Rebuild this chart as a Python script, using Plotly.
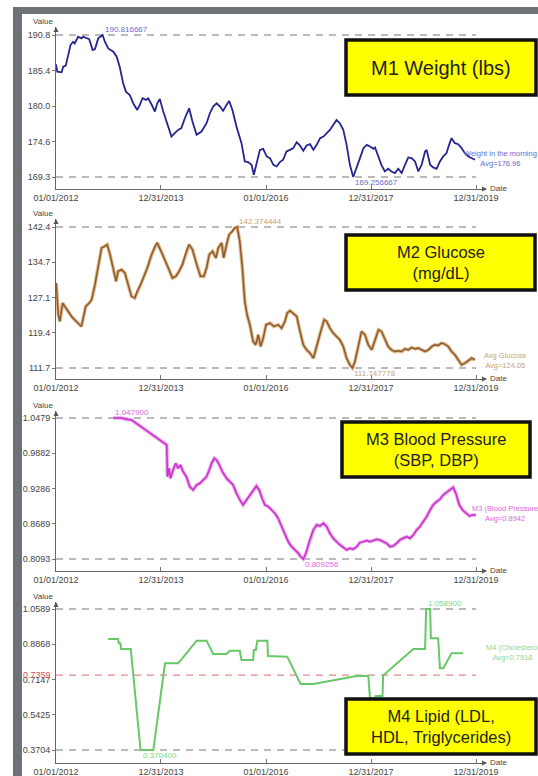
import plotly.graph_objects as go
import pandas as pd

W, H = 538, 776

# ---------------- data ----------------
m1_dates = ["2012-01-01","2012-01-10","2012-02-09","2012-02-20","2012-03-09","2012-03-25","2012-04-11","2012-04-29",
            "2012-05-10","2012-06-03","2012-06-26","2012-07-08","2012-08-01","2012-08-19","2012-09-12","2012-09-28",
            "2012-10-21","2012-11-20","2012-12-06","2012-12-29","2013-02-03","2013-02-26","2013-03-19","2013-04-12",
            "2013-05-01","2013-05-28","2013-06-21","2013-07-19","2013-08-06","2013-08-25","2013-09-17","2013-10-03",
            "2013-10-26","2013-11-19","2013-12-05","2013-12-23","2014-01-16","2014-02-09","2014-03-14","2014-04-06",
            "2014-04-29","2014-05-22","2014-06-15","2014-07-15","2014-08-07","2014-09-05","2014-10-09","2014-11-13",
            "2014-12-06","2014-12-29","2015-01-22","2015-02-15","2015-03-08","2015-04-01","2015-04-19","2015-05-12",
            "2015-06-09","2015-07-14","2015-08-06","2015-08-29","2015-09-22","2015-10-08","2015-11-01","2015-11-19",
            "2015-12-12","2016-01-05","2016-01-28","2016-02-21","2016-03-14","2016-04-06","2016-04-29","2016-05-22",
            "2016-06-15","2016-07-08","2016-08-01","2016-08-24","2016-09-16","2016-10-09","2016-11-02","2016-11-25",
            "2016-12-18","2017-01-11","2017-02-03","2017-02-26","2017-03-20","2017-04-12","2017-05-05","2017-05-28",
            "2017-06-21","2017-07-14","2017-08-06","2017-08-29","2017-09-22","2017-10-15","2017-11-08","2017-12-01",
            "2017-12-24","2018-01-17","2018-01-28","2018-02-20","2018-03-13","2018-04-06","2018-04-29","2018-05-22",
            "2018-06-15","2018-07-08","2018-08-01","2018-08-24","2018-09-16","2018-10-09","2018-11-02","2018-11-25",
            "2018-12-18","2019-01-11","2019-01-22","2019-02-15","2019-03-08","2019-04-01","2019-04-24","2019-05-17",
            "2019-06-09","2019-06-27","2019-07-14","2019-08-06","2019-08-29","2019-09-22","2019-10-15","2019-11-08",
            "2019-12-01","2019-12-24"]
m1_vals = [186.36,185.25,185.15,186.0,186.16,187.52,189.29,189.79,
           189.54,190.55,190.3,190.55,190.3,190.19,188.53,188.68,
           190.3,190.816667,189.79,188.78,188.28,187.52,186.0,183.48,
           182.22,181.71,180.45,179.44,180.2,181.21,180.96,181.21,
           180.3,179.19,180.45,181.11,179.19,177.68,175.4,175.91,
           176.41,176.67,178.18,179.69,177.68,175.66,176.16,177.42,
           178.94,179.95,180.45,179.95,179.29,180.2,180.81,179.44,
           176.92,174.39,171.62,171.52,171.11,169.6,171.62,173.38,
           173.54,172.38,172.12,171.11,170.86,171.52,171.87,173.13,
           173.38,173.64,174.55,174.04,173.23,174.04,174.24,173.38,
           174.14,175.15,175.4,175.91,176.41,177.17,177.93,177.42,
           176.41,174.14,171.11,169.256667,170.61,172.12,173.64,174.14,
           173.89,173.54,173.74,172.38,171.11,170.1,170.51,170.1,
           169.85,170.51,169.85,171.11,172.22,172.12,171.62,170.1,
           171.11,173.13,173.38,171.11,170.71,170.51,171.62,172.38,
           172.88,174.14,175.15,174.39,174.24,173.64,172.88,172.38,
           172.12,171.87]

m2_dates = ["2012-01-01","2012-01-03","2012-01-17","2012-01-28","2012-02-16","2012-03-02","2012-03-25","2012-04-18",
            "2012-05-10","2012-06-03","2012-06-26","2012-07-08","2012-07-26","2012-08-19","2012-09-05","2012-09-28",
            "2012-10-21","2012-11-13","2012-12-06","2012-12-22","2013-01-11","2013-02-03","2013-02-22","2013-03-08",
            "2013-04-01","2013-04-24","2013-05-17","2013-06-09","2013-07-02","2013-07-19","2013-08-11","2013-09-04",
            "2013-09-27","2013-10-27","2013-11-19","2013-12-05","2013-12-28","2014-01-21","2014-02-20","2014-03-21",
            "2014-04-13","2014-05-06","2014-05-29","2014-06-22","2014-07-15","2014-08-07","2014-09-05","2014-10-02",
            "2014-10-25","2014-11-13","2014-12-02","2014-12-25","2015-01-17","2015-02-03","2015-02-26","2015-03-12",
            "2015-04-01","2015-04-19","2015-05-12","2015-05-28","2015-06-14","2015-07-02","2015-07-20","2015-08-06",
            "2015-08-22","2015-09-10","2015-10-03","2015-10-21","2015-11-08","2015-11-24","2015-12-12","2016-01-01",
            "2016-01-28","2016-02-25","2016-03-25","2016-04-18","2016-05-11","2016-05-27","2016-06-15","2016-07-08",
            "2016-08-01","2016-08-24","2016-09-16","2016-10-09","2016-11-02","2016-11-25","2016-12-18","2017-01-15",
            "2017-02-08","2017-02-26","2017-03-20","2017-04-12","2017-05-05","2017-05-28","2017-06-21","2017-07-14",
            "2017-08-06","2017-08-24","2017-09-10","2017-10-03","2017-10-26","2017-11-19","2017-12-12","2018-01-05",
            "2018-01-28","2018-02-21","2018-03-14","2018-04-06","2018-04-29","2018-05-22","2018-06-15","2018-07-08",
            "2018-08-01","2018-08-24","2018-09-16","2018-10-09","2018-11-02","2018-11-25","2018-12-18","2019-01-11",
            "2019-02-03","2019-02-26","2019-03-20","2019-04-12","2019-05-05","2019-05-28","2019-06-21","2019-07-14",
            "2019-08-06","2019-08-29","2019-09-22","2019-10-15","2019-11-08","2019-12-01","2019-12-24"]
m2_vals = [130.21,129.85,123.31,121.86,125.85,125.13,124.04,122.95,
           122.23,121.5,120.77,122.59,125.13,125.85,126.58,129.85,
           134.2,137.83,138.19,138.55,136.38,133.47,130.57,132.75,
           133.11,132.39,129.85,127.31,126.94,128.39,129.85,131.66,
           133.47,136.38,138.19,138.92,137.47,135.65,133.47,131.3,
           131.66,132.75,134.2,136.74,138.55,137.47,134.2,131.66,
           131.66,133.47,136.38,137.1,135.65,137.83,138.92,135.65,
           138.55,140.73,141.46,142.18,142.374444,139.28,133.47,126.22,
           123.31,121.14,117.51,116.78,118.96,116.42,118.23,121.14,
           121.5,120.77,121.14,120.41,121.86,123.68,124.19,123.68,
           122.95,119.69,116.78,115.69,114.97,113.88,116.78,119.69,
           122.23,121.86,120.41,119.32,118.6,117.87,116.42,113.88,
           112.43,111.747778,113.15,116.78,119.69,118.96,116.78,115.69,
           117.87,120.05,119.69,117.87,116.42,115.69,115.33,115.48,
           115.33,115.91,115.69,116.2,115.91,116.06,115.69,115.33,
           115.69,116.42,116.78,116.64,117.15,116.93,116.42,115.33,
           114.61,113.52,112.43,112.79,113.3,113.88,113.52]

m3_dates = ["2013-02-03","2013-04-01","2013-05-05","2013-06-09","2014-02-09","2014-02-14","2014-02-25","2014-03-07",
            "2014-03-25","2014-04-13","2014-04-29","2014-05-15","2014-06-03","2014-06-26","2014-07-19","2014-08-12",
            "2014-09-05","2014-09-28","2014-10-21","2014-11-13","2014-12-02","2014-12-18","2015-01-06","2015-01-22",
            "2015-02-10","2015-03-03","2015-04-01","2015-04-24","2015-05-17","2015-06-09","2015-07-02","2015-07-25",
            "2015-08-18","2015-09-10","2015-10-03","2015-10-26","2015-11-14","2015-12-03","2015-12-24","2016-01-17",
            "2016-02-09","2016-03-02","2016-03-25","2016-04-18","2016-05-11","2016-06-03","2016-06-26","2016-07-20",
            "2016-08-12","2016-08-28","2016-09-16","2016-10-04","2016-10-27","2016-11-25","2016-12-18","2017-01-11",
            "2017-02-03","2017-02-26","2017-03-20","2017-04-12","2017-05-05","2017-05-28","2017-06-21","2017-07-14",
            "2017-08-06","2017-08-29","2017-09-22","2017-10-15","2017-11-08","2017-12-01","2017-12-24","2018-01-17",
            "2018-02-09","2018-03-02","2018-03-25","2018-04-18","2018-05-11","2018-06-03","2018-06-26","2018-07-20",
            "2018-08-12","2018-09-05","2018-09-28","2018-10-21","2018-11-13","2018-12-06","2018-12-29","2019-01-22",
            "2019-02-15","2019-03-08","2019-04-01","2019-04-24","2019-05-17","2019-06-09","2019-07-02","2019-07-25",
            "2019-08-13","2019-09-06","2019-09-29","2019-10-22","2019-11-15","2019-12-08","2019-12-31"]
m3_vals = [1.0479,1.0479,1.0456,1.0445,1.0022,0.9486,0.9627,0.9458,
           0.9599,0.9712,0.9627,0.9684,0.9571,0.9486,0.9317,0.9261,
           0.9345,0.9374,0.9430,0.9486,0.9599,0.9712,0.9797,0.9768,
           0.9684,0.9571,0.9458,0.9402,0.9345,0.9204,0.9091,0.9007,
           0.9091,0.9176,0.9261,0.9328,0.9261,0.9120,0.9007,0.8979,
           0.8922,0.8866,0.8781,0.8640,0.8499,0.8387,0.8302,0.8246,
           0.8190,0.8133,0.809256,0.8190,0.8387,0.8584,0.8669,0.8652,
           0.8697,0.8640,0.8528,0.8443,0.8387,0.8330,0.8291,0.8246,
           0.8274,0.8257,0.8302,0.8370,0.8387,0.8404,0.8387,0.8404,
           0.8426,0.8415,0.8387,0.8358,0.8302,0.8313,0.8358,0.8415,
           0.8443,0.8471,0.8443,0.8499,0.8584,0.8640,0.8725,0.8809,
           0.8922,0.9007,0.9063,0.9103,0.9176,0.9216,0.9261,0.9306,
           0.9204,0.9007,0.8922,0.8866,0.8821,0.8838,0.8838]

m4_dates = ["2012-12-29","2013-03-08","2013-03-13","2013-03-24","2013-03-29","2013-06-04","2013-08-11","2013-11-08",
            "2014-01-28","2014-04-29","2014-06-26","2014-08-12","2014-09-05","2014-11-13","2014-12-29","2015-04-01",
            "2015-04-24","2015-07-02","2015-07-14","2015-10-03","2015-10-08","2015-10-22","2015-10-26","2015-11-01",
            "2016-01-10","2016-01-14","2016-05-27","2016-08-28","2016-11-25","2017-09-22","2017-12-12","2017-12-24",
            "2018-01-28","2018-02-02","2018-03-21","2018-03-25","2018-04-06","2018-10-21","2019-01-11","2019-01-18",
            "2019-02-15","2019-02-20","2019-04-12","2019-04-24","2019-05-17","2019-07-14","2019-10-03"]
m4_vals = [0.9124,0.9124,0.8912,0.8912,0.8636,0.8636,0.3704,0.3704,
           0.7936,0.7936,0.8424,0.8831,0.9043,0.9043,0.8392,0.8392,
           0.8554,0.8554,0.8099,0.8099,0.8587,0.8587,0.8750,0.9043,
           0.9043,0.8294,0.8261,0.6927,0.6927,0.7317,0.7317,0.6227,
           0.6227,0.6341,0.6341,0.7366,0.7415,0.8636,0.8636,1.0589,
           1.0589,0.9157,0.9157,0.7692,0.7692,0.8424,0.8424]

x_tick_vals = ["2012-01-01", "2013-12-31", "2016-01-01", "2017-12-31", "2019-12-31"]
x_tick_text = ["01/01/2012", "12/31/2013", "01/01/2016", "12/31/2017", "12/31/2019"]

m1_ticks = ["190.8", "185.4", "180.0", "174.6", "169.3"]
m2_ticks = ["142.4", "134.7", "127.1", "119.4", "111.7"]
m3_ticks = ["1.0479", "0.9882", "0.9286", "0.8689", "0.8093"]
m4_ticks = ["1.0589", "0.8868", "0.7147", "0.5425", "0.3704"]

m1_max, m1_min = 190.816667, 169.256667
m2_max, m2_min = 142.374444, 111.747778
m3_max, m3_min = 1.047900, 0.809256
m4_max, m4_min = 1.058900, 0.370400
m4_ref = 0.7359

titles = ["M1 Weight (lbs)", "M2 Glucose<br>(mg/dL)", "M3 Blood Pressure<br>(SBP, DBP)",
          "M4 Lipid (LDL,<br>HDL, Triglycerides)"]
end_labels = ["Weight in the morning<br>Avg=176.96", "Avg Glucose<br>Avg=124.05",
              "M3 (Blood Pressure<br>Avg=0.8942", "M4 (Cholesterol<br>Avg=0.7918"]

# ---------------- layout helpers ----------------
FONT = "Liberation Sans, Arial, sans-serif"
def px_x(p): return p / W
def px_y(p): return 1 - p / H

panels = [
    dict(dates=m1_dates, vals=m1_vals, ticks=m1_ticks, ymax=m1_max, ymin=m1_min,
         top=27, maxp=35, minp=177, bot=189, color="#25258f", halo=None, width=1.8,
         acol="#6a6ad0", maxfmt="190.816667", minfmt="169.256667",
         box=(346, 40, 536, 95), tsize=20, endxy=(500, 159), endcol="#6a6ad0"),
    dict(dates=m2_dates, vals=m2_vals, ticks=m2_ticks, ymax=m2_max, ymin=m2_min,
         top=219, maxp=227, minp=368, bot=379, color="#8a5a2e", halo="rgba(214,160,100,0.75)", width=1.5,
         acol="#c9a27a", maxfmt="142.374444", minfmt="111.747778",
         box=(346, 235, 535, 290), tsize=16.5, endxy=(505, 360), endcol="#c9a27a"),
    dict(dates=m3_dates, vals=m3_vals, ticks=m3_ticks, ymax=m3_max, ymin=m3_min,
         top=411, maxp=418, minp=559, bot=571, color="#c630c6", halo="rgba(232,140,232,0.8)", width=1.5,
         acol="#dd66dd", maxfmt="1.047900", minfmt="0.809256",
         box=(342, 422, 530, 477), tsize=16.5, endxy=(505, 513), endcol="#dd66dd"),
    dict(dates=m4_dates, vals=m4_vals, ticks=m4_ticks, ymax=m4_max, ymin=m4_min,
         top=602, maxp=609, minp=750, bot=763, color="#66c866", halo=None, width=2,
         acol="#7fd87f", maxfmt="1.058900", minfmt="0.370400",
         box=(346, 699, 536, 754), tsize=16.5, endxy=(512, 652), endcol="#8fd88f"),
]

x_left_px, x_right_px, x_end_px = 56, 476, 486
d0 = pd.Timestamp("2012-01-01"); d1 = pd.Timestamp("2019-12-31")
days_per_px = (d1 - d0).days / (x_right_px - x_left_px)
x_range = [d0, d1 + pd.Timedelta(days=days_per_px * (x_end_px - x_right_px))]

fig = go.Figure()
shapes, annos = [], []
layout = dict(width=W, height=H, autosize=False,
              margin=dict(l=0, r=0, t=0, b=0, pad=0, autoexpand=False),
              paper_bgcolor="white", plot_bgcolor="white", showlegend=False,
              font=dict(family=FONT, color="#444"))

for i, p in enumerate(panels):
    sfx = "" if i == 0 else str(i + 1)
    xa, ya = "x" + sfx, "y" + sfx
    s = (p["ymax"] - p["ymin"]) / (p["minp"] - p["maxp"])
    yr = [p["ymin"] - (p["bot"] - p["minp"]) * s, p["ymax"] + (p["maxp"] - p["top"]) * s]
    tickvals = [p["ymax"] - k * (p["ymax"] - p["ymin"]) / 4 for k in range(5)]
    layout["xaxis" + sfx] = dict(domain=[px_x(x_left_px), px_x(x_end_px)], range=x_range, type="date",
                                 anchor=ya, showline=True, linecolor="#666", linewidth=1, automargin=False,
                                 tickvals=x_tick_vals, ticktext=x_tick_text, ticks="inside", ticklen=4,
                                 tickcolor="#777", tickfont=dict(size=9, color="#444", family=FONT),
                                 showgrid=False, zeroline=False)
    layout["yaxis" + sfx] = dict(domain=[px_y(p["bot"]), px_y(p["top"])], range=yr, anchor=xa,
                                 showline=True, linecolor="#666", linewidth=1, automargin=False,
                                 tickvals=tickvals, ticktext=p["ticks"], ticks="outside", ticklen=3,
                                 tickcolor="#777", tickfont=dict(size=9, color="#444", family=FONT),
                                 showgrid=False, zeroline=False)
    if p["halo"]:
        fig.add_trace(go.Scatter(x=p["dates"], y=p["vals"], mode="lines", xaxis=xa, yaxis=ya,
                                 line=dict(color=p["halo"], width=3.6), hoverinfo="skip"))
    fig.add_trace(go.Scatter(x=p["dates"], y=p["vals"], mode="lines", xaxis=xa, yaxis=ya,
                             line=dict(color=p["color"], width=p["width"])))
    # dashed max/min lines
    for yv in (p["ymax"], p["ymin"]):
        shapes.append(dict(type="line", xref=xa, yref=ya, x0=x_tick_vals[0], x1=x_tick_vals[-1],
                           y0=yv, y1=yv, line=dict(color="#777", width=1.2, dash="7px,6px"), layer="below"))
    # max / min labels
    vals = p["vals"]
    imax = max(range(len(vals)), key=lambda k: vals[k])
    imin = min(range(len(vals)), key=lambda k: vals[k])
    annos.append(dict(xref=xa, yref=ya, x=p["dates"][imax], y=vals[imax], text=p["maxfmt"],
                      showarrow=False, xanchor="left", yanchor="bottom", yshift=-1,
                      font=dict(size=8, color=p["acol"], family=FONT)))
    annos.append(dict(xref=xa, yref=ya, x=p["dates"][imin], y=vals[imin], text=p["minfmt"],
                      showarrow=False, xanchor="left", yanchor="top", yshift=1,
                      font=dict(size=8, color=p["acol"], family=FONT)))
    # end label
    ex, ey = p["endxy"]
    annos.append(dict(xref="paper", yref="paper", x=px_x(ex), y=px_y(ey), text=end_labels[i],
                      showarrow=False, xanchor="center", yanchor="middle", align="center",
                      font=dict(size=7.5, color=p["endcol"], family=FONT)))
    # Value label and arrowheads
    annos.append(dict(xref="paper", yref="paper", x=px_x(43), y=px_y(p["top"] - 6), text="Value",
                      showarrow=False, xanchor="center", yanchor="middle",
                      font=dict(size=8, color="#444", family=FONT)))
    annos.append(dict(xref="paper", yref="paper", x=px_x(x_left_px), y=px_y(p["top"]), text="",
                      showarrow=True, ax=0, ay=6, arrowhead=2, arrowsize=1, arrowwidth=1, arrowcolor="#555"))
    annos.append(dict(xref="paper", yref="paper", x=px_x(x_end_px + 1), y=px_y(p["bot"]), text="",
                      showarrow=True, ax=-6, ay=0, arrowhead=2, arrowsize=1, arrowwidth=1, arrowcolor="#555"))
    annos.append(dict(xref="paper", yref="paper", x=px_x(x_end_px + 2), y=px_y(p["bot"] - 1), text="Date",
                      showarrow=False, xanchor="left", yanchor="middle",
                      font=dict(size=8, color="#444", family=FONT)))
    # title box
    bx0, by0, bx1, by1 = p["box"]
    shapes.append(dict(type="rect", xref="paper", yref="paper", x0=px_x(bx0), x1=px_x(bx1),
                       y0=px_y(by1), y1=px_y(by0), fillcolor="#ffff00",
                       line=dict(color="#111", width=3.5), layer="above"))
    annos.append(dict(xref="paper", yref="paper", x=px_x((bx0 + bx1) / 2), y=px_y((by0 + by1) / 2),
                      text=titles[i], showarrow=False, xanchor="center", yanchor="middle", align="center",
                      font=dict(size=p["tsize"], color="#222", family=FONT)))

# red reference line in M4
shapes.append(dict(type="line", xref="x4", yref="y4", x0=x_tick_vals[0], x1=x_tick_vals[-1],
                   y0=m4_ref, y1=m4_ref, line=dict(color="#e08a8a", width=1.2, dash="7px,6px"), layer="below"))
annos.append(dict(xref="paper", yref="y4", x=px_x(53), y=m4_ref, text="0.7359", showarrow=False,
                  xanchor="right", yanchor="middle", font=dict(size=9, color="#d05050", family=FONT)))

# gray frame
shapes.append(dict(type="rect", xref="paper", yref="paper", x0=px_x(13), x1=1, y0=px_y(14), y1=px_y(7),
                   fillcolor="#6e7176", line=dict(width=0)))
shapes.append(dict(type="rect", xref="paper", yref="paper", x0=px_x(13), x1=px_x(22), y0=0, y1=px_y(7),
                   fillcolor="#6e7176", line=dict(width=0)))

layout["shapes"] = shapes
layout["annotations"] = annos
fig.update_layout(**layout)
fig.write_html("out.html", config={"displayModeBar": False},
               post_script="document.body.style.margin='0';document.body.style.padding='0';"
                           "document.documentElement.style.overflow='hidden';")
